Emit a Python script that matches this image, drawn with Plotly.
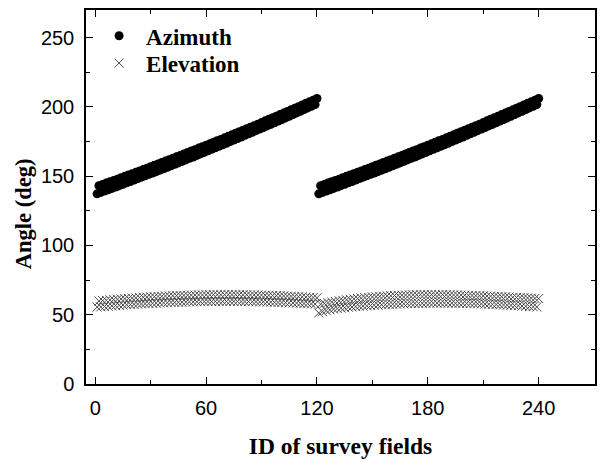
import plotly.graph_objects as go

# ---- data ----
# Survey field IDs: two passes of 120 fields each
field_ids_pass1 = list(range(1, 121))
field_ids_pass2 = list(range(121, 241))

# Azimuth (deg): odd fields (lower track) and even fields (upper track) for one pass
az_low = [137.3, 138.3, 139.3, 140.2, 141.2, 142.2, 143.2, 144.2, 145.2, 146.2,
          147.3, 148.3, 149.3, 150.3, 151.4, 152.3, 153.3, 154.4, 155.4, 156.5,
          157.5, 158.6, 159.6, 160.7, 161.8, 162.9, 163.9, 165.0, 166.1, 167.2,
          168.3, 169.4, 170.5, 171.6, 172.7, 173.8, 175.0, 176.1, 177.2, 178.3,
          179.5, 180.6, 181.7, 182.9, 184.1, 185.1, 186.3, 187.4, 188.6, 189.8,
          190.9, 192.1, 193.3, 194.5, 195.7, 196.9, 198.1, 199.3, 200.5, 201.7]
az_high = [143.2, 144.1, 145.1, 146.0, 147.0, 147.9, 148.9, 149.9, 150.9, 151.8,
           152.8, 153.8, 154.8, 155.8, 156.8, 157.9, 158.9, 159.9, 160.9, 161.9,
           163.0, 164.0, 165.0, 166.1, 167.1, 168.2, 169.2, 170.3, 171.3, 172.4,
           173.4, 174.5, 175.6, 176.6, 177.7, 178.8, 179.9, 181.0, 182.1, 183.2,
           184.3, 185.4, 186.5, 187.6, 188.7, 190.0, 191.1, 192.2, 193.3, 194.5,
           195.6, 196.8, 197.9, 199.1, 200.2, 201.4, 202.6, 203.7, 204.9, 206.1]

# Elevation (deg), pass 1
el1_low = [55.5, 55.7, 56.0, 56.2, 56.4, 56.6, 56.8, 57.0, 57.2, 57.3,
           57.5, 57.7, 57.8, 58.0, 58.1, 58.3, 58.4, 58.5, 58.6, 58.7,
           58.9, 58.9, 59.0, 59.1, 59.2, 59.3, 59.3, 59.4, 59.4, 59.5,
           59.5, 59.5, 59.6, 59.6, 59.6, 59.6, 59.6, 59.6, 59.6, 59.5,
           59.5, 59.5, 59.4, 59.4, 59.3, 59.3, 59.2, 59.1, 59.0, 58.9,
           58.9, 58.7, 58.6, 58.5, 58.4, 58.3, 58.1, 58.0, 57.8, 57.7]
el1_high = [59.9, 60.2, 60.4, 60.7, 60.9, 61.2, 61.4, 61.6, 61.8, 62.0,
            62.2, 62.4, 62.6, 62.7, 62.9, 63.0, 63.2, 63.3, 63.5, 63.6,
            63.7, 63.8, 63.9, 64.0, 64.1, 64.2, 64.2, 64.3, 64.3, 64.4,
            64.4, 64.5, 64.5, 64.5, 64.5, 64.5, 64.5, 64.5, 64.5, 64.4,
            64.4, 64.3, 64.3, 64.2, 64.2, 64.1, 64.0, 63.9, 63.8, 63.7,
            63.6, 63.5, 63.3, 63.2, 63.0, 62.9, 62.7, 62.6, 62.4, 62.2]
# Elevation (deg), pass 2
el2_low = [51.3, 52.2, 53.0, 53.6, 54.1, 54.5, 54.8, 55.1, 55.4, 55.6,
           55.9, 56.1, 56.3, 56.5, 56.7, 56.9, 57.0, 57.2, 57.3, 57.5,
           57.6, 57.7, 57.8, 57.9, 58.0, 58.1, 58.2, 58.2, 58.3, 58.3,
           58.4, 58.4, 58.4, 58.4, 58.4, 58.4, 58.4, 58.3, 58.3, 58.2,
           58.2, 58.1, 58.0, 57.9, 57.8, 57.7, 57.6, 57.5, 57.4, 57.2,
           57.1, 56.9, 56.8, 56.6, 56.5, 56.3, 56.1, 55.9, 55.8, 55.6]
el2_high = [57.6, 58.2, 58.7, 59.2, 59.6, 60.0, 60.4, 60.8, 61.1, 61.4,
            61.7, 62.0, 62.3, 62.5, 62.8, 63.0, 63.2, 63.4, 63.6, 63.7,
            63.9, 64.0, 64.1, 64.2, 64.3, 64.4, 64.4, 64.5, 64.5, 64.5,
            64.5, 64.5, 64.5, 64.5, 64.4, 64.4, 64.3, 64.3, 64.2, 64.1,
            64.0, 63.9, 63.8, 63.7, 63.6, 63.5, 63.4, 63.3, 63.2, 63.0,
            62.9, 62.8, 62.6, 62.5, 62.4, 62.3, 62.1, 62.0, 61.8, 61.7]

x_ticks = [0, 60, 120, 180, 240]
y_ticks = [0, 50, 100, 150, 200, 250]


def interleave(low, high):
    out = []
    for a, b in zip(low, high):
        out.extend([a, b])
    return out


az_pass = interleave(az_low, az_high)
ids = field_ids_pass1 + field_ids_pass2
azimuth = az_pass + az_pass
elevation = interleave(el1_low, el1_high) + interleave(el2_low, el2_high)

legend_font = dict(family="Liberation Serif, Times New Roman, serif", size=23,
                   color="black", weight="bold")

fig = go.Figure()
fig.add_trace(go.Scatter(
    x=ids, y=azimuth, mode="markers", name="Azimuth", legend="legend",
    marker=dict(symbol="circle", size=9, color="black", line=dict(width=0)),
))
fig.add_trace(go.Scatter(
    x=ids, y=elevation, mode="markers", name="Elevation", legend="legend2",
    marker=dict(symbol="x-thin", size=9, color="#4a4a4a",
                line=dict(width=1, color="#4a4a4a")),
))

tick_font = dict(family="Liberation Sans, Arial, sans-serif", size=20, color="black")
xtitle_font = dict(family="Liberation Serif, Times New Roman, serif", size=23.5,
                   color="black", weight="bold")
ytitle_font = dict(family="Liberation Serif, Times New Roman, serif", size=22.5,
                   color="black", weight="bold")

axis_common = dict(
    showline=True, linecolor="black", linewidth=1.5, mirror="ticks",
    ticks="inside", ticklen=7, tickwidth=1.3, tickcolor="black",
    showgrid=False, zeroline=False, tickfont=tick_font,
)

fig.update_xaxes(
    range=[-5, 270.5], tickvals=x_ticks, ticktext=[str(v) for v in x_ticks],
    minor=dict(ticks="inside", ticklen=4, tickwidth=1.2, tickcolor="black", dtick=30, tick0=0),
    title=dict(text="ID of survey fields", font=xtitle_font, standoff=20),
    ticklabelstandoff=5,
    **axis_common,
)
fig.update_yaxes(
    range=[0, 270], tickvals=y_ticks, ticktext=[str(v) for v in y_ticks],
    minor=dict(ticks="inside", ticklen=4, tickwidth=1.2, tickcolor="black", dtick=25, tick0=0),
    ticklabelstandoff=6,
    **axis_common,
)

# y-axis title, placed slightly below the plot-area centre as in the reference
fig.add_annotation(
    text="Angle (deg)", textangle=-90, showarrow=False,
    xref="paper", yref="paper", x=-0.123, y=0.455,
    xanchor="center", yanchor="middle", font=ytitle_font,
)

legend_common = dict(
    xanchor="left", yanchor="middle",
    bgcolor="rgba(0,0,0,0)", borderwidth=0,
    font=legend_font, itemwidth=44,
)

fig.update_layout(
    width=601, height=459,
    margin=dict(l=86, r=4, t=10, b=67),
    paper_bgcolor="white", plot_bgcolor="white",
    showlegend=True,
    legend=dict(x=0.012, y=0.931, **legend_common),
    legend2=dict(x=0.012, y=0.858, **legend_common),
)

fig.write_html("out.html")
